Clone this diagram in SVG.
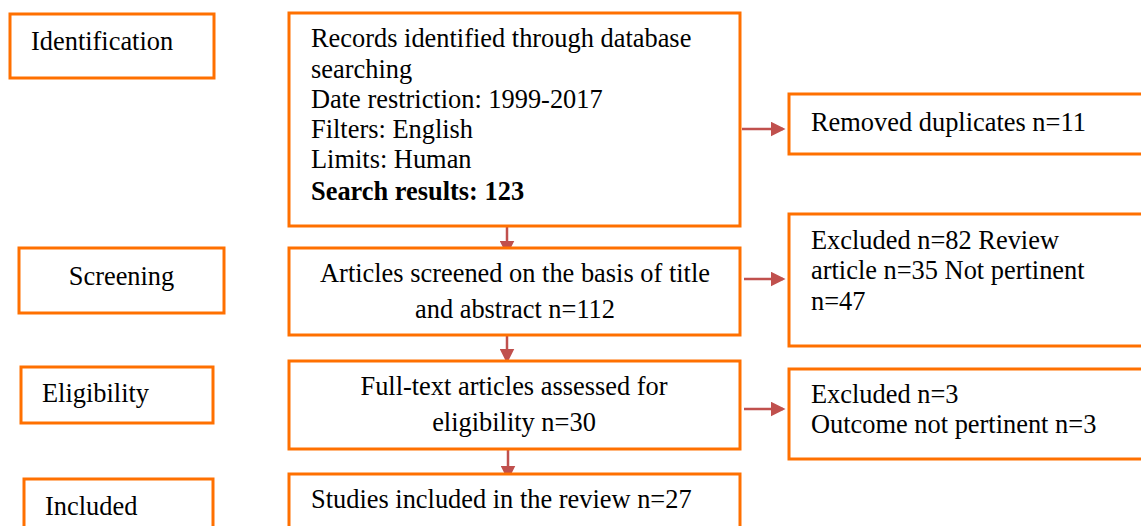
<svg xmlns="http://www.w3.org/2000/svg" width="1141" height="526" viewBox="0 0 1141 526">
<style>
.box{fill:#fff;stroke:#FF7000;stroke-width:3}
.t{font-family:"Liberation Serif","Times New Roman",serif;font-size:26.4px;fill:#000}
.b{font-weight:bold}
.c{text-anchor:middle}
.arr{stroke:#C0504D;stroke-width:2.5;fill:none;marker-end:url(#ah)}
</style>
<defs>
<marker id="ah" markerWidth="6" markerHeight="6" refX="5" refY="3" orient="auto" markerUnits="strokeWidth">
<path d="M0,0 L6,3 L0,6 Z" fill="#C0504D"/>
</marker>
</defs>
<rect width="1141" height="526" fill="#fff"/>
<g id="connectors">
<line class="arr" x1="742" y1="129" x2="783" y2="129"/>
<line class="arr" x1="507" y1="223" x2="507" y2="253"/>
<line class="arr" x1="744" y1="279" x2="783" y2="279"/>
<line class="arr" x1="507" y1="333" x2="507" y2="361"/>
<line class="arr" x1="744" y1="409" x2="783" y2="409"/>
<line class="arr" x1="508" y1="449" x2="508" y2="478"/>
</g>
<g id="identification">
<rect class="box" x="10" y="14" width="204" height="64"/>
<text class="t" x="31" y="50">Identification</text>
</g>
<g id="screening">
<rect class="box" x="19" y="248" width="205" height="65"/>
<text class="t c" x="121.5" y="285">Screening</text>
</g>
<g id="eligibility">
<rect class="box" x="21" y="367" width="192" height="56"/>
<text class="t" x="42" y="402">Eligibility</text>
</g>
<g id="included">
<rect class="box" x="24" y="479" width="189" height="60"/>
<text class="t" x="45" y="515">Included</text>
</g>
<g id="records">
<rect class="box" x="289" y="13" width="451" height="213"/>
<text class="t" x="311" y="47">Records identified through database</text>
<text class="t" x="311" y="78">searching</text>
<text class="t" x="311" y="108">Date restriction: 1999-2017</text>
<text class="t" x="311" y="138">Filters: English</text>
<text class="t" x="311" y="168">Limits: Human</text>
<text class="t b" x="311" y="200">Search results: 123</text>
</g>
<g id="screened">
<rect class="box" x="289" y="248" width="451" height="87"/>
<text class="t c" x="515" y="282">Articles screened on the basis of title</text>
<text class="t c" x="515" y="318">and abstract n=112</text>
</g>
<g id="fulltext">
<rect class="box" x="289" y="361" width="451" height="88"/>
<text class="t c" x="514" y="395">Full-text articles assessed for</text>
<text class="t c" x="514" y="431">eligibility n=30</text>
</g>
<g id="studies">
<rect class="box" x="289" y="474" width="451" height="70"/>
<text class="t" x="311" y="508">Studies included in the review n=27</text>
</g>
<g id="duplicates">
<rect class="box" x="789" y="94" width="370" height="60"/>
<text class="t" x="811" y="131">Removed duplicates n=11</text>
</g>
<g id="excluded82">
<rect class="box" x="789" y="214" width="370" height="132"/>
<text class="t" x="811" y="249">Excluded n=82 Review</text>
<text class="t" x="811" y="279">article n=35 Not pertinent</text>
<text class="t" x="811" y="310">n=47</text>
</g>
<g id="excluded3">
<rect class="box" x="789" y="369" width="370" height="90"/>
<text class="t" x="811" y="403">Excluded n=3</text>
<text class="t" x="811" y="433">Outcome not pertinent n=3</text>
</g>
</svg>
